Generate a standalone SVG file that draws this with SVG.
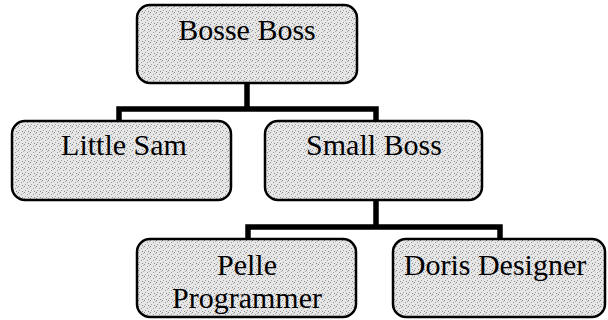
<svg xmlns="http://www.w3.org/2000/svg" width="608" height="320" viewBox="0 0 608 320">
<defs>
<pattern id="stip" width="6" height="6" patternUnits="userSpaceOnUse">
<rect width="6" height="6" fill="#e6e6e6"/>
<rect x="0" y="0" width="1" height="1" fill="#8a8a8a"/>
<rect x="3" y="2" width="1" height="1" fill="#9a9a9a"/>
<rect x="1" y="4" width="1" height="1" fill="#a0a0a0"/>
<rect x="4" y="5" width="1" height="1" fill="#888"/>
<rect x="5" y="1" width="1" height="1" fill="#b0b0b0"/>
</pattern>
<style>
.box{fill:url(#stip);stroke:#000;stroke-width:2.5}
.lbl{font-family:"Liberation Serif","Times New Roman",serif;font-size:30px;fill:#000;text-anchor:middle}
.con{fill:none;stroke:#000;stroke-width:5.5;stroke-linejoin:miter}
</style>
</defs>
<g id="connectors">
<path class="con" d="M247 83 V109 M119 121 V109 H376 V121"/>
<path class="con" d="M376 200 V227 M248 239 V227 H500 V239"/>
</g>
<g id="bosse">
<rect class="box" x="137" y="5" width="220" height="78" rx="13"/>
<text class="lbl" x="247" y="40">Bosse Boss</text>
</g>
<g id="little-sam">
<rect class="box" x="12" y="121" width="219" height="79" rx="13"/>
<text class="lbl" x="124" y="155">Little Sam</text>
</g>
<g id="small-boss">
<rect class="box" x="265" y="121" width="217" height="79" rx="13"/>
<text class="lbl" x="374" y="155">Small Boss</text>
</g>
<g id="pelle">
<rect class="box" x="137" y="239" width="219" height="78" rx="13"/>
<text class="lbl" x="247" y="275">Pelle</text>
<text class="lbl" x="247" y="308">Programmer</text>
</g>
<g id="doris">
<rect class="box" x="393" y="239" width="212" height="78" rx="13"/>
<text class="lbl" x="495" y="275">Doris Designer</text>
</g>
</svg>
